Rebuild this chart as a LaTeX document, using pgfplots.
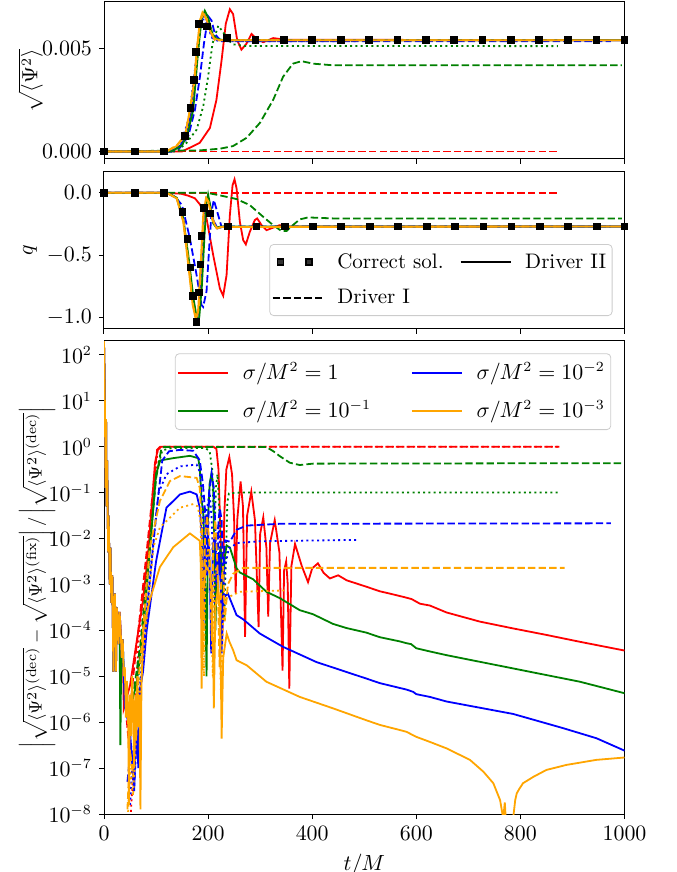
\documentclass[border=0pt]{standalone}
\usepackage{pgfplots}
\pgfplotsset{compat=1.18}
\definecolor{mred}{rgb}{1,0,0}
\definecolor{mgreen}{rgb}{0,0.5,0}
\definecolor{mblue}{rgb}{0,0,1}
\definecolor{morange}{rgb}{1,0.647,0}
\begin{document}
\begin{tikzpicture}[font=\fontsize{10.5}{12.6}\selectfont]
\path[use as bounding box] (0,0) rectangle (338pt,436pt);
\pgfplotsset{
  panel/.style={scale only axis, width=260.25pt, xmin=0, xmax=1000, anchor=south west,
    tick align=outside, xtick pos=left, ytick pos=left, major tick length=2.5pt,
    every tick/.style={black, line width=0.5pt}, axis line style={line width=0.5pt},
    xtick={0,200,400,600,800,1000}, scaled y ticks=false,
    every axis plot/.append style={line width=0.9pt},
    /pgf/number format/1000 sep={}},
  ds/.style={dash pattern=on 3.7pt off 1.6pt},
  dt/.style={dash pattern=on 1pt off 1.65pt},
  lgd/.style={legend cell align=left, legend columns=2,
    legend style={draw=black!20, rounded corners=2pt, fill=white, fill opacity=0.8, text opacity=1,
      inner xsep=1pt, inner ysep=2.5pt, row sep=5pt},
    legend image code/.code={\draw[##1] (0cm,0cm) -- (0.88cm,0cm); \path (0cm,0cm) (1.05cm,0cm);}},
  twosq/.style={legend image code/.code={\draw[##1] plot coordinates {(0.14cm,0cm) (0.64cm,0cm)}; \path (0cm,0cm) (1.05cm,0cm);}},
}
% ---------------- top panel
\begin{axis}[panel, at={(52pt,356.5pt)}, height=78.5pt, ymin=-0.000368, ymax=0.007253,
  ytick={0,0.005}, yticklabels={$0.000$,$0.005$}, xticklabels={},
  ylabel={$\sqrt{\langle\Psi^2\rangle}$},
  ylabel style={at={(axis description cs:-0.1166,0.5)}, anchor=south, inner sep=0pt}]
\addplot[mred] coordinates {(0,0)(150,0)(165,0.00018)(184,0.00042)(203.5,0.00114)(216,0.0025)(225.8,0.0044)(234,0.0062)(241.8,0.0069)(248,0.00667)(255.9,0.0054)(264,0.00494)(273.8,0.00523)(283.4,0.0057)(293,0.00547)(305.8,0.0053)(325,0.0055)(350,0.00542)(1000,0.0054)};
\addplot[mred,ds] coordinates {(0,0)(875,0)};
\addplot[mgreen,ds] coordinates {(0,0)(184,0.00005)(222.6,0.00013)(248,0.00026)(274,0.00066)(299.4,0.00138)(325,0.0025)(344,0.00362)(363,0.00426)(379.4,0.00438)(401.8,0.00426)(440,0.00418)(995,0.00418)};
\addplot[mgreen,dt] coordinates {(0,0)(140,0)(158.7,0.00042)(178,0.00106)(190.6,0.00218)(200,0.00362)(208.4,0.00523)(219.5,0.0061)(229,0.00578)(238.7,0.0054)(248,0.0052)(270,0.00512)(872,0.00511)};
\addplot[mblue,dt] coordinates {(0,0)(130,0)(148,0.0004)(163,0.0016)(174,0.0038)(181,0.0055)(187,0.0064)(193,0.0064)(200,0.006)(208,0.0055)(220,0.00535)(488,0.00535)};
\addplot[mblue] coordinates {(0,0)(130,0)(150,0.00035)(165,0.0015)(175,0.0036)(182,0.0055)(188,0.0065)(194,0.0066)(200,0.0062)(208,0.0056)(218,0.0054)(1000,0.0054)};
\addplot[mblue,ds] coordinates {(0,0)(130,0)(146,0.00018)(161.9,0.00074)(174.7,0.00202)(184.3,0.00362)(192,0.00523)(200.2,0.00656)(206.7,0.00635)(213,0.0057)(222.6,0.00542)(240,0.00535)(974,0.00535)};
\addplot[mgreen] coordinates {(0,0)(130,0)(150,0.0003)(160,0.0008)(171.4,0.00202)(181,0.0049)(187.5,0.00643)(193.6,0.00683)(200,0.0065)(208.4,0.0057)(216,0.00547)(230,0.0054)(1000,0.0054)};
\addplot[morange,dt] coordinates {(0,0)(120,0)(141,0.0003)(157,0.0008)(167,0.0021)(175,0.0036)(180,0.005)(186,0.0064)(191,0.0067)(198,0.0064)(206,0.0058)(214,0.0054)(350,0.0054)};
\addplot[morange,ds] coordinates {(0,0)(120,0)(140,0.0003)(156,0.0008)(166,0.0021)(174,0.0036)(179,0.005)(185,0.0064)(190,0.0067)(197,0.0064)(205,0.0058)(213,0.0054)(885,0.0054)};
\addplot[morange] coordinates {(0,0)(120,0)(139.4,0.00026)(155.5,0.00074)(165,0.00202)(173.4,0.00346)(178,0.0049)(184.3,0.00635)(189.2,0.00675)(195.8,0.0065)(203.5,0.00587)(211,0.00547)(222.6,0.0054)(1000,0.0054)};
\addplot[only marks, mark=square*, mark size=1.5pt, black] coordinates {(0,0)(60,0)(115,0)(155.5,0.00074)(166.3,0.0021)(173.4,0.00346)(176.6,0.00482)(182.3,0.00619)(198.3,0.00606)(236,0.0055)(291,0.0054)(346,0.0054)(400,0.0054)(455,0.0054)(509,0.0054)(564,0.0054)(618,0.0054)(673,0.0054)(727,0.0054)(782,0.0054)(836,0.0054)(891,0.0054)(946,0.0054)(1000,0.0054)};
\end{axis}
% ---------------- middle panel
\begin{axis}[panel, lgd, at={(52pt,271.5pt)}, height=78.5pt, ymin=-1.092, ymax=0.166,
  ytick={-1,-0.5,0}, yticklabels={$-1.0$,$-0.5$,$0.0$}, xticklabels={},
  ylabel={$q$},
  ylabel style={at={(axis description cs:-0.128,0.5)}, anchor=south, inner sep=0pt},
  legend style={at={(0.977,0.541)}, anchor=north east, /tikz/every even column/.append style={column sep=6pt}}]
\addlegendimage{black, only marks, mark=square*, mark size=1.5pt, twosq}
\addlegendentry{Correct sol.}
\addlegendimage{black}
\addlegendentry{Driver II}
\addlegendimage{black, ds}
\addlegendentry{Driver I}
\addplot[mred, forget plot] coordinates {(0,0)(115,0)(148,-0.008)(161.9,-0.024)(174.7,-0.045)(184.3,-0.094)(197,-0.206)(209.8,-0.50)(222.6,-0.767)(229,-0.826)(235.5,-0.66)(241.8,-0.18)(247,0.06)(250.8,0.107)(254.7,0.035)(261,-0.233)(267.4,-0.38)(272.5,-0.414)(280.2,-0.313)(289.8,-0.219)(294.3,-0.206)(302.6,-0.259)(312.2,-0.30)(325,-0.28)(337.5,-0.26)(350,-0.27)(1000,-0.27)};
\addplot[mred, ds, forget plot] coordinates {(0,0)(875,0)};
\addplot[mgreen, ds, forget plot] coordinates {(0,0)(197,0)(229,-0.027)(254.7,-0.051)(280,-0.099)(305.8,-0.193)(325,-0.26)(341,-0.307)(350.6,-0.307)(360,-0.27)(376,-0.214)(392,-0.198)(440,-0.206)(995,-0.206)};
\addplot[mblue, forget plot] coordinates {(0,0)(120,0)(140,-0.045)(153,-0.23)(163,-0.58)(172,-0.9)(178,-1.02)(183,-0.93)(187,-0.58)(192,-0.18)(197,-0.045)(202,-0.07)(210,-0.22)(218,-0.286)(227,-0.275)(1000,-0.27)};
\addplot[mblue, ds, forget plot] coordinates {(0,0)(120,0)(136,-0.03)(150,-0.1)(165,-0.366)(177.9,-0.66)(187.4,-0.90)(190.5,-0.915)(197,-0.79)(202,-0.446)(206.6,-0.15)(211,-0.059)(217.5,-0.152)(225.8,-0.273)(235,-0.27)(974,-0.27)};
\addplot[mgreen, forget plot] coordinates {(0,0)(120,0)(140,-0.04)(152,-0.2)(162,-0.5)(172,-0.85)(179,-1.02)(183,-1.0)(188,-0.75)(193,-0.35)(197,-0.08)(200,-0.013)(204,-0.1)(209.8,-0.246)(216,-0.28)(225,-0.27)(1000,-0.27)};
\addplot[morange, ds, forget plot] coordinates {(0,0)(120,0)(140,-0.045)(153,-0.233)(163,-0.58)(171,-0.90)(177.5,-1.02)(182,-0.93)(186.5,-0.58)(191.5,-0.18)(196.8,-0.045)(201,-0.072)(209.4,-0.22)(217.3,-0.286)(226,-0.275)(885,-0.27)};
\addplot[morange, forget plot] coordinates {(0,0)(120,0)(139.4,-0.045)(152.2,-0.233)(161.9,-0.58)(170.3,-0.90)(176.6,-1.02)(181,-0.93)(185.5,-0.58)(190.6,-0.18)(195.8,-0.045)(200,-0.072)(208.4,-0.22)(216.3,-0.286)(225,-0.275)(1000,-0.27)};
\addplot[only marks, mark=square*, mark size=1.5pt, black, forget plot] coordinates {(0,0)(60,0)(115,0)(151,-0.152)(160.5,-0.372)(166.3,-0.60)(171.4,-0.829)(177.9,-1.035)(182.3,-0.80)(185.5,-0.575)(187.4,-0.348)(192,-0.12)(203.5,-0.166)(238.7,-0.27)(293,-0.27)(347.4,-0.27)(401.8,-0.27)(456,-0.27)(511,-0.27)(565,-0.27)(620,-0.27)(674,-0.27)(729,-0.27)(783,-0.27)(838,-0.27)(892,-0.27)(947,-0.27)(1000,-0.27)};
\end{axis}
% ---------------- bottom panel
\begin{axis}[panel, lgd, at={(52pt,29pt)}, height=236.5pt, ymode=log, ymin=1e-8, ymax=200,
  ytick={1e-8,1e-7,1e-6,1e-5,1e-4,1e-3,1e-2,1e-1,1,10,100}, yminorticks=false,
  xlabel={$t/M$},
  ylabel={$\Big|\sqrt{\langle\Psi^2\rangle^{(\mathrm{dec})}}-\sqrt{\langle\Psi^2\rangle^{(\mathrm{fix})}}\Big|\,/\,\Big|\sqrt{\langle\Psi^2\rangle^{(\mathrm{dec})}}\Big|$},
  ylabel style={at={(axis description cs:-0.129,0.5)}, anchor=center, inner sep=0pt, font=\fontsize{9.5}{11.4}\selectfont},
  legend style={at={(0.9745,0.974)}, anchor=north east, /tikz/every even column/.append style={column sep=18pt}}]
\addlegendimage{mred}
\addlegendentry{$\sigma/M^2=1$}
\addlegendimage{mblue}
\addlegendentry{$\sigma/M^2=10^{-2}$}
\addlegendimage{mgreen}
\addlegendentry{$\sigma/M^2=10^{-1}$}
\addlegendimage{morange}
\addlegendentry{$\sigma/M^2=10^{-3}$}
% red
\addplot[mred, forget plot] coordinates {(0,199)(1.5,15.8)(3,0.126)(4,3.98)(5,0.0501)(6,0.501)(8,5.01e-3)(9,0.0316)(11,1e-3)(12.5,6.31e-3)(14,3.98e-4)(16,1.58e-3)(18,1.26e-5)(19,3.98e-4)(21,6.31e-4)(23,1.26e-5)(24.5,3.16e-4)(26,2.0e-4)(28,5.01e-5)(30,2.51e-4)(32,1e-4)(34,2.51e-5)(36,6.31e-5)(38,2.0e-6)(50,6.31e-6)(58,2.51e-5)(62,5.01e-5)(75,4.47e-4)(85,5.01e-3)(98,0.447)(103,0.832)(110,1)(210,1)(216,0.891)(220,0.316)(224,0.01)(227,5.01e-5)(231,0.0316)(235,0.316)(240.8,0.589)(246,0.251)(250,0.0251)(253,6.31e-4)(256,0.0251)(262.4,0.174)(267,0.0501)(271,7.24e-5)(275,0.0316)(283,0.105)(290,0.0251)(297,1.17e-4)(300,0.0126)(306,0.0288)(312,6.31e-3)(315.5,2.0e-4)(319,7.94e-3)(328,0.0251)(337,5.01e-3)(343,1.32e-5)(346,2.0e-3)(350,3.16e-3)(353,1e-3)(356,5.37e-6)(360,2.51e-3)(367,7.59e-3)(380,2.51e-3)(392,1.12e-3)(400,2.24e-3)(411,2.88e-3)(422,1.78e-3)(434,1.35e-3)(450,1.58e-3)(466,1.23e-3)(504,8.91e-4)(530,7.08e-4)(549,6.31e-4)(578,5.25e-4)(591,4.79e-4)(607,3.80e-4)(626,3.47e-4)(658,2.45e-4)(722,1.55e-4)(786,1.10e-4)(850,7.94e-5)(914.5,5.62e-5)(1000,3.63e-5)};
\addplot[mred, ds, forget plot] coordinates {(40,3.16e-6)(48,3.16e-7)(52,3.16e-6)(58,1.58e-5)(66,1e-4)(80,3.16e-3)(95,0.141)(102,0.851)(108,1)(875,1)};
\addplot[mred, dt, forget plot] coordinates {(50,5.01e-9)(55,5.01e-8)(60,1.58e-6)(66,5.01e-5)(80,2.0e-3)(95,0.1)(103,0.851)(108,1)(875,1)};
% green
\addplot[mgreen, forget plot] coordinates {(0,199)(1.5,15.8)(3,0.126)(4,3.98)(5,0.0501)(6,0.501)(8,5.01e-3)(9,0.0316)(11,1e-3)(12.5,6.31e-3)(14,3.98e-4)(16,1.58e-3)(18,1.26e-5)(19,3.98e-4)(21,6.31e-4)(23,1.26e-5)(24.5,3.16e-4)(26,2.0e-4)(28,5.01e-5)(30,1e-4)(31.5,3.16e-7)(33,2.51e-5)(36,6.31e-5)(38,1e-5)(45,1.58e-6)(55,3.16e-6)(62.7,6.92e-6)(75.5,1e-4)(90,0.01)(100,0.251)(108,0.501)(133,0.562)(165,0.631)(181,0.562)(184,0.347)(187.5,0.0661)(190.7,0.0398)(194,1.58e-3)(197,1e-5)(200,0.0316)(203,0.158)(206.6,0.263)(210,0.126)(214,1e-4)(217,3.16e-3)(220,3.16e-3)(224,6.31e-3)(228,6.31e-4)(232,3.98e-3)(235.5,7.08e-3)(242,6.31e-3)(254.7,2.24e-3)(261,1.82e-3)(286.6,1.29e-3)(312,6.92e-4)(338,5.01e-4)(376,2.75e-4)(401.7,2.24e-4)(440,1.38e-4)(466,1.12e-4)(504,8.91e-5)(530,7.08e-5)(568,5.75e-5)(581,5.25e-5)(590,5.01e-5)(600,4.07e-5)(626,3.47e-5)(658,2.88e-5)(786,1.48e-5)(914.5,7.59e-6)(1000,4.27e-6)};
\addplot[mgreen, ds, forget plot] coordinates {(55,3.16e-6)(70,5.01e-5)(85,3.16e-3)(100,0.2)(110,0.891)(115,0.98)(312,0.98)(325,0.8)(338,0.617)(357,0.447)(376,0.398)(401.7,0.427)(995,0.437)};
\addplot[mgreen, dt, forget plot] coordinates {(60,1e-6)(70,2.51e-5)(85,2.51e-3)(100,0.251)(112,0.832)(130,0.933)(195,0.933)(203,0.794)(208,0.316)(212,0.01)(215,0.126)(218,0.251)(222,0.0316)(226,1.58e-3)(231,1.58e-4)(234,3.16e-3)(237,0.0631)(240,0.0955)(260,0.1)(872,0.1)};
% blue
\addplot[mblue, forget plot] coordinates {(0,199)(1.5,15.8)(3,0.126)(4,3.98)(5,0.0501)(6,0.501)(8,5.01e-3)(9,0.0316)(11,1e-3)(12.5,6.31e-3)(14,3.98e-4)(16,1.58e-3)(18,1.26e-5)(19,3.98e-4)(21,6.31e-4)(23,1.26e-5)(24.5,3.16e-4)(26,2.0e-4)(28,5.01e-5)(30,2.51e-4)(32,1e-4)(34,2.51e-5)(36,6.31e-5)(40,2.24e-6)(50,6.31e-7)(58,3.16e-8)(62,1e-6)(66,1e-7)(69,5.01e-6)(75,1.26e-5)(82,1e-4)(100,3.16e-3)(120,0.0468)(146,0.0912)(165,0.105)(178,0.0912)(184,0.0468)(188,0.01)(191,1e-4)(194,0.01)(198,0.0316)(203,3.16e-3)(206,3.16e-5)(209,6.31e-3)(213,0.0126)(217,1e-3)(221,5.01e-3)(224,1e-3)(226,3.16e-5)(229,5.01e-4)(238,6.31e-4)(254.7,2.14e-4)(267.4,1.74e-4)(299.4,8.51e-5)(344,4.37e-5)(408,2.04e-5)(504,8.91e-6)(530,7.08e-6)(581,5.13e-6)(594,4.57e-6)(600,4.07e-6)(626,3.55e-6)(658,2.82e-6)(786,1.51e-6)(882,7.41e-7)(946,4.47e-7)(1000,2.40e-7)};
\addplot[mblue, ds, forget plot] coordinates {(45,5.01e-8)(52,3.16e-7)(58,3.98e-8)(63,5.01e-7)(70,5.01e-6)(85,5.01e-4)(100,0.0316)(112,0.501)(125,0.794)(146,0.851)(171.5,0.813)(184,0.501)(190,0.158)(194,0.0427)(198,1.58e-3)(202,0.1)(206.7,0.263)(211,0.126)(214,0.0158)(217,1e-3)(220,0.0251)(222.6,0.0447)(226,0.0251)(229,1e-3)(232,9.12e-3)(242,8.51e-3)(254.7,0.0155)(274,0.0191)(338,0.0209)(974,0.0214)};
\addplot[mblue, dt, forget plot] coordinates {(50,1.58e-8)(55,1.58e-7)(62,1e-6)(75,3.16e-5)(90,2.51e-3)(105,0.1)(120,0.251)(146,0.372)(178,0.407)(184,0.282)(189,0.0631)(193,3.16e-3)(197,0.0398)(203,0.1)(207,0.0251)(212,3.16e-4)(216,0.01)(220,0.02)(224,3.16e-3)(228,1.58e-4)(233,2.51e-3)(240,6.31e-3)(244,6.31e-3)(254.7,7.94e-3)(300,8.71e-3)(488,9.33e-3)};
% orange
\addplot[morange, forget plot] coordinates {(0,199)(1.5,15.8)(3,0.126)(4,3.98)(5,0.0501)(6,0.501)(8,5.01e-3)(9,0.0316)(11,1e-3)(12.5,6.31e-3)(14,3.98e-4)(16,1.58e-3)(18,1.26e-5)(19,3.98e-4)(21,6.31e-4)(23,1.26e-5)(24.5,3.16e-4)(26,2.0e-4)(28,5.01e-5)(30,2.51e-4)(32,1e-4)(34,2.51e-5)(36,6.31e-5)(38,1e-5)(40,1.58e-5)(42,1.26e-6)(44,7.94e-6)(46,2.51e-6)(48,1.58e-8)(50,3.98e-6)(52,5.01e-7)(54,1e-5)(56,2.0e-6)(58,1e-7)(60,3.98e-6)(62,3.98e-7)(64,1e-5)(66,7.94e-7)(68,3.98e-6)(70,1.26e-8)(72,6.31e-6)(75.5,1e-4)(88,4.57e-4)(107.5,2.4e-3)(133,6.46e-3)(165,0.0129)(184,8.91e-3)(186,2.51e-3)(187.5,5.37e-6)(190,6.31e-4)(196,2.51e-3)(203.5,1.74e-3)(208,5.01e-4)(211,2.0e-6)(214,3.16e-4)(219.4,8.91e-4)(223,2.51e-4)(226,4.37e-7)(229,2.51e-5)(235.7,8.51e-5)(241,5.62e-5)(248,3.72e-5)(254.7,2.24e-5)(274,1.74e-5)(312,7.59e-6)(376,3.55e-6)(440,2.0e-6)(504,1.10e-6)(530,8.71e-7)(568,6.76e-7)(581,6.17e-7)(600,4.79e-7)(626,3.72e-7)(658,2.69e-7)(703,1.51e-7)(729,8.32e-8)(748,4.68e-8)(761,2.0e-8)(767,7.94e-9)(770,1.78e-8)(773,5.01e-9)(786,7.94e-9)(790,2.0e-8)(793,2.82e-8)(798,3.55e-8)(805,4.68e-8)(825,6.46e-8)(850,9.12e-8)(888,1.17e-7)(946,1.51e-7)(1000,1.70e-7)};
\addplot[morange, ds, forget plot] coordinates {(45,1.26e-8)(50,2.51e-7)(56,6.31e-8)(62,2.51e-6)(75,1e-4)(88,6.46e-3)(107.5,0.0661)(126.7,0.178)(146,0.229)(178,0.209)(184,0.126)(188,0.0158)(191,3.16e-5)(194,0.01)(198,0.0316)(203,6.31e-3)(207,6.31e-5)(210,7.94e-3)(214,0.0251)(218,2.51e-3)(222,1.58e-5)(225,1e-3)(229,2.51e-3)(232,1.58e-4)(238,1e-3)(248,1.70e-3)(267.4,2.29e-3)(885,2.29e-3)};
\addplot[morange, dt, forget plot] coordinates {(45,5.01e-9)(50,1e-7)(56,2.51e-8)(62,6.31e-7)(75,2.51e-5)(94.7,6.46e-3)(107.5,0.0174)(146,0.0468)(171.5,0.0562)(180,0.0501)(185,0.0251)(189,1.58e-3)(192,1e-5)(195,2.51e-3)(200,6.31e-3)(205,1e-3)(209,1e-5)(212,1.58e-3)(217,2.51e-3)(221,3.16e-4)(225,3.16e-6)(229,2.51e-4)(235,5.01e-4)(261,6.92e-4)(350.6,7.41e-4)};
\end{axis}
\end{tikzpicture}
\end{document}
